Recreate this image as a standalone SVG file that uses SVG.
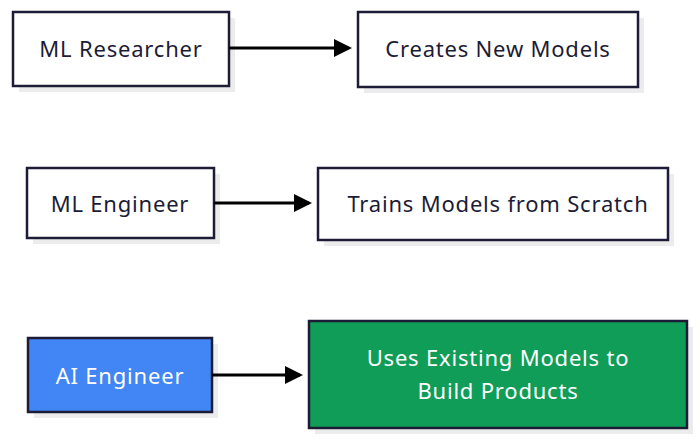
<svg xmlns="http://www.w3.org/2000/svg" width="700" height="442" viewBox="0 0 700 442">
<defs>
<marker id="ah" markerWidth="6" markerHeight="6" refX="5" refY="3" orient="auto" markerUnits="strokeWidth"><path d="M0,0 L6,3 L0,6 z" fill="#000"/></marker>
<style>
.sh{fill:#ececec}
.bx{fill:#fff;stroke:#1c1c36;stroke-width:2.5}
.t{font-family:"Noto Sans","Open Sans",sans-serif;font-size:22px;letter-spacing:0.8px;fill:#1c1c36;text-anchor:middle;dominant-baseline:central}
.w{fill:#fff}
.c{stroke:#000;stroke-width:3;fill:none;marker-end:url(#ah)}
</style>
</defs>
<rect width="700" height="442" fill="#fff"/>
<g id="n1"><rect class="sh" x="19" y="18" width="216" height="74"/><rect class="bx" x="13" y="12" width="216" height="74"/><text class="t" x="121" y="48">ML Researcher</text></g>
<g id="n2"><rect class="sh" x="364" y="18" width="280" height="75"/><rect class="bx" x="358" y="12" width="280" height="75"/><text class="t" x="498" y="48">Creates New Models</text></g>
<g id="n3"><rect class="sh" x="33" y="174" width="187" height="70"/><rect class="bx" x="27" y="168" width="187" height="70"/><text class="t" x="120" y="203">ML Engineer</text></g>
<g id="n4"><rect class="sh" x="324" y="174" width="350" height="72"/><rect class="bx" x="318" y="168" width="350" height="72"/><text class="t" x="498" y="203">Trains Models from Scratch</text></g>
<g id="n5"><rect class="sh" x="34" y="344" width="184" height="74"/><rect class="bx" x="28" y="338" width="184" height="74" style="fill:#4285f4"/><text class="t w" x="120" y="375">AI Engineer</text></g>
<g id="n6"><rect class="sh" x="315" y="327" width="378" height="107"/><rect class="bx" x="309" y="321" width="378" height="107" style="fill:#0f9d58"/><text class="t w" x="498" y="357">Uses Existing Models to</text><text class="t w" x="498" y="390">Build Products</text></g>
<g id="connectors">
<line class="c" x1="229" y1="48" x2="349" y2="48"/>
<line class="c" x1="214" y1="203" x2="309" y2="203"/>
<line class="c" x1="212" y1="375" x2="300" y2="375"/>
</g>
</svg>
